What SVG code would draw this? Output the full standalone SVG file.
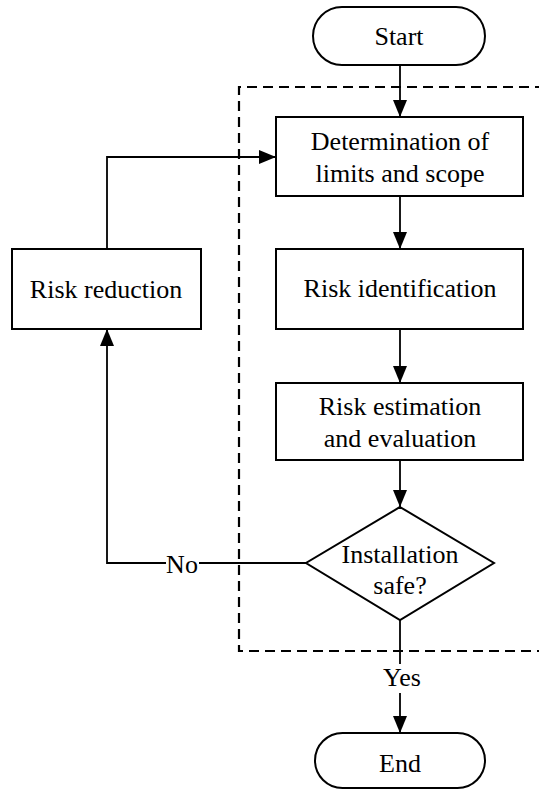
<svg xmlns="http://www.w3.org/2000/svg" width="539" height="790" viewBox="0 0 539 790">
  <style>
    .shape { fill: #ffffff; stroke: #000000; stroke-width: 2; }
    .line { fill: none; stroke: #000000; stroke-width: 1.8; }
    .frame { fill: none; stroke: #000000; stroke-width: 2.2; stroke-dasharray: 10 6; }
    .label { font-family: "Liberation Serif", serif; font-size: 26px; fill: #000000; text-anchor: middle; }
  </style>
  <defs>
    <marker id="arrow" markerUnits="userSpaceOnUse" markerWidth="18" markerHeight="16" refX="17" refY="7" orient="auto">
      <path d="M0,0 L17,7 L0,14 Z" fill="#000000"/>
    </marker>
  </defs>
  <rect width="539" height="790" fill="#ffffff"/>

  <!-- dashed boundary of the assessment loop -->
  <path class="frame" d="M545,87 H239 V651 H545"/>

  <g id="connectors">
    <line class="line" x1="400" y1="65" x2="400" y2="117" marker-end="url(#arrow)"/>
    <line class="line" x1="400" y1="196" x2="400" y2="249" marker-end="url(#arrow)"/>
    <line class="line" x1="400" y1="329" x2="400" y2="383" marker-end="url(#arrow)"/>
    <line class="line" x1="400" y1="460" x2="400" y2="507" marker-end="url(#arrow)"/>
    <!-- No branch back to risk reduction -->
    <polyline class="line" points="306,563 199,563"/>
    <polyline class="line" points="166,563 107,563 107,329" marker-end="url(#arrow)"/>
    <text class="label" x="182" y="573">No</text>
    <!-- risk reduction back to scope -->
    <polyline class="line" points="107,249 107,157 276,157" marker-end="url(#arrow)"/>
    <!-- Yes branch to end -->
    <line class="line" x1="400" y1="620" x2="400" y2="664"/>
    <text class="label" x="402" y="686">Yes</text>
    <line class="line" x1="400" y1="693" x2="400" y2="733" marker-end="url(#arrow)"/>
  </g>

  <g id="start">
    <rect class="shape" x="313" y="7" width="172" height="58" rx="29" ry="29"/>
    <text class="label" x="399" y="45">Start</text>
  </g>

  <g id="scope">
    <rect class="shape" x="276" y="117" width="247" height="79"/>
    <text class="label" x="400" y="150">Determination of</text>
    <text class="label" x="400" y="182">limits and scope</text>
  </g>

  <g id="identification">
    <rect class="shape" x="276" y="249" width="247" height="80"/>
    <text class="label" x="400" y="297">Risk identification</text>
  </g>

  <g id="estimation">
    <rect class="shape" x="276" y="383" width="247" height="77"/>
    <text class="label" x="400" y="415">Risk estimation</text>
    <text class="label" x="400" y="447">and evaluation</text>
  </g>

  <g id="decision">
    <polygon class="shape" points="400,507 494,563 400,620 306,563"/>
    <text class="label" x="400" y="563">Installation</text>
    <text class="label" x="400" y="594">safe?</text>
  </g>

  <g id="reduction">
    <rect class="shape" x="12" y="249" width="189" height="80"/>
    <text class="label" x="106" y="298">Risk reduction</text>
  </g>

  <g id="end">
    <rect class="shape" x="315" y="733" width="170" height="55" rx="27.5" ry="27.5"/>
    <text class="label" x="400" y="772">End</text>
  </g>
</svg>
